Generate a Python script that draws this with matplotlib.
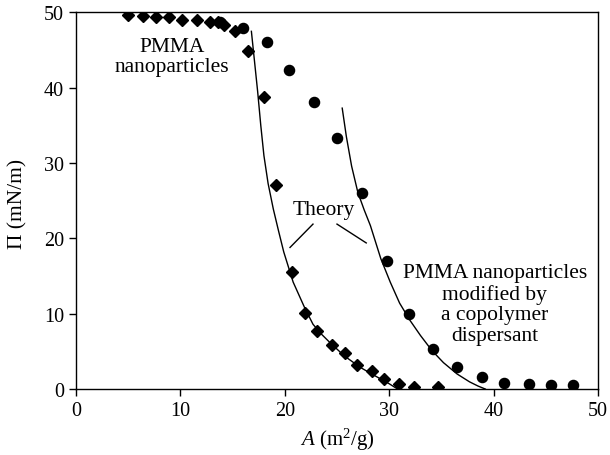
import matplotlib
matplotlib.use("Agg")
import matplotlib.pyplot as plt

# Data
dia_A = [5.0, 6.45, 7.66, 8.94, 10.2, 11.6, 12.8, 13.6, 14.2, 15.2, 16.5, 18.0, 19.2, 20.7,
         21.9, 23.1, 24.5, 25.8, 26.9, 28.4, 29.5, 30.9, 32.4, 34.7]
dia_P = [49.7, 49.5, 49.4, 49.4, 49.0, 49.0, 48.7, 48.7, 48.3, 47.6, 44.9, 38.8, 27.1, 15.6,
         10.1, 7.66, 5.9, 4.74, 3.19, 2.43, 1.33, 0.66, 0.22, 0.22]

cir_A = [13.8, 16.0, 18.3, 20.4, 22.8, 25.0, 27.4, 29.8, 31.9, 34.2, 36.5, 38.9, 41.0, 43.4, 45.5, 47.6]
cir_P = [48.7, 47.9, 46.1, 42.4, 38.1, 33.4, 26.0, 17.0, 10.0, 5.3, 2.9, 1.55, 0.8, 0.66, 0.53, 0.53]

th1_A = [16.8, 17.1, 17.4, 17.7, 18.0, 18.4, 18.9, 19.4, 19.9, 20.8, 21.9, 22.7, 23.5, 24.3,
         25.7, 27.2, 28.2, 29.1, 30.0, 30.8]
th1_P = [47.5, 43.5, 39.5, 35.0, 31.0, 27.3, 23.9, 21.0, 18.2, 14.2, 10.8, 8.6, 7.3, 6.2,
         4.4, 2.9, 2.1, 1.4, 0.7, 0.0]

th2_A = [25.5, 25.9, 26.4, 27.0, 27.6, 28.2, 28.7, 29.2, 30.1, 31.0, 32.0, 33.0, 34.1, 35.2,
         36.5, 37.7, 38.5, 39.2]
th2_P = [37.3, 33.5, 29.6, 26.1, 23.8, 21.7, 19.5, 17.3, 14.2, 11.4, 9.1, 7.1, 5.1, 3.5,
         2.0, 0.95, 0.4, 0.0]

x_ticks = [0, 10, 20, 30, 40, 50]
y_ticks = [0, 10, 20, 30, 40, 50]

plt.rcParams['font.family'] = ['Liberation Serif', 'DejaVu Serif']
plt.rcParams['mathtext.fontset'] = 'custom'
plt.rcParams['mathtext.rm'] = 'Liberation Serif'
plt.rcParams['mathtext.it'] = 'Liberation Serif:italic'

fig = plt.figure(figsize=(6.1, 4.56), dpi=100)
ax = fig.add_axes([0.1246, 0.1447, 0.8557, 0.8257])

ax.plot(th1_A, th1_P, color='black', lw=1.0)
ax.plot(th2_A, th2_P, color='black', lw=1.0)
ax.plot(dia_A, dia_P, linestyle='none', marker='D', ms=6.0, color='black')
ax.plot(cir_A, cir_P, linestyle='none', marker='o', ms=7.3, color='black')

ax.set_xlim(0, 50)
ax.set_ylim(0, 50)
ax.set_xticks(x_ticks)
ax.set_yticks(y_ticks)
ax.tick_params(direction='out', length=5, width=1, labelsize=14.5, colors='black')
for s in ax.spines.values():
    s.set_linewidth(1.0)

ax.set_xlabel(r'$\mathit{A}$ (m$^2$/g)', fontsize=15)
ax.set_ylabel('Π (mN/m)', fontsize=15.5)
ax.yaxis.set_label_coords(-0.092, 0.495)
ax.xaxis.set_label_coords(0.5, -0.098)

ax.text(9.2, 44.2, 'PMMA\nnanoparticles', ha='center', va='center', fontsize=15.5, linespacing=1.05)
ax.text(40.1, 11.3, 'PMMA nanoparticles\nmodified by\na copolymer\ndispersant', ha='center',
        va='center', fontsize=15.5, linespacing=1.1)
ax.text(23.7, 23.9, 'Theory', ha='center', va='center', fontsize=15.5)
ax.plot([22.7, 20.5], [21.9, 18.8], color='black', lw=1.0)
ax.plot([25.0, 27.8], [21.9, 19.4], color='black', lw=1.0)

fig.savefig('out.png', dpi=100)
